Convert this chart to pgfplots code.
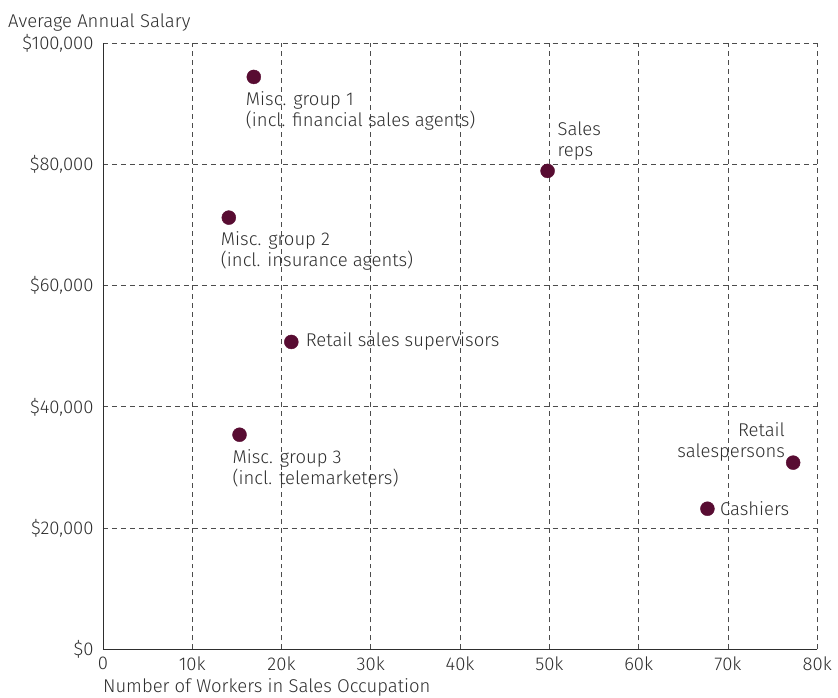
\documentclass[border=0pt]{standalone}
\usepackage{pgfplots}
\pgfplotsset{compat=1.18}
\usepackage{fontspec}
\setmainfont{Fira Sans}[UprightFont=* Light]
\definecolor{dot}{HTML}{580C32}
\definecolor{txt}{HTML}{2E2E2E}
\begin{document}
\fontsize{18.5bp}{21bp}\selectfont
\begin{tikzpicture}
\begin{axis}[
    name=ax,
    scale only axis,
    width=715bp, height=607bp,
    xmin=0, xmax=80000, ymin=0, ymax=100000,
    scaled ticks=false,
    axis lines=left,
    axis line style={txt, line width=0.8pt, -},
    xtick={0,10000,...,80000},
    xticklabels={0,10k,20k,30k,40k,50k,60k,70k,80k},
    ytick={0,20000,...,100000},
    yticklabels={\$0,{\$20,000},{\$40,000},{\$60,000},{\$80,000},{\$100,000}},
    major tick length=0pt,
    ticklabel style={font=\fontsize{18.5bp}{21bp}\selectfont, text=txt},
    /pgf/number format/assume math mode=true,
    grid=major,
    grid style={black!70, dash pattern=on 5bp off 4bp, line width=0.7pt},
    xticklabel style={yshift=-1bp},
    yticklabel style={xshift=-3bp},
    clip=false,
]
\addplot[only marks, mark=*, mark size=7bp, color=dot] coordinates {
    (16900,94400) (49800,78900) (14100,71200) (21100,50700)
    (15300,35400) (77300,30800) (67700,23200)
};
\begin{scope}[every node/.style={text=txt, inner sep=0pt}]
\node[anchor=west, align=left] at (axis cs:16000,88860) {Misc. group 1\\(incl. financial sales agents)};
\node[anchor=west, align=left] at (axis cs:50900,83830) {Sales\\reps};
\node[anchor=west, align=left] at (axis cs:13200,65630) {Misc. group 2\\(incl. insurance agents)};
\node[anchor=west] at (axis cs:22700,50730) {Retail sales supervisors};
\node[anchor=west, align=left] at (axis cs:14500,29890) {Misc. group 3\\(incl. telemarketers)};
\node[anchor=east, align=right] at (axis cs:76400,34260) {Retail\\salespersons};
\node[anchor=west] at (axis cs:69100,23220) {Cashiers};
\node[anchor=base west] at (rel axis cs:0,1) [xshift=-95bp, yshift=15bp] {Average Annual Salary};
\node[anchor=base west] at (rel axis cs:0,0) [yshift=-43bp] {Number of Workers in Sales Occupation};
\end{scope}
\end{axis}
\path (ax.south west) ++(-103bp,-48bp) rectangle ++(838bp,698bp);
\end{tikzpicture}
\end{document}
